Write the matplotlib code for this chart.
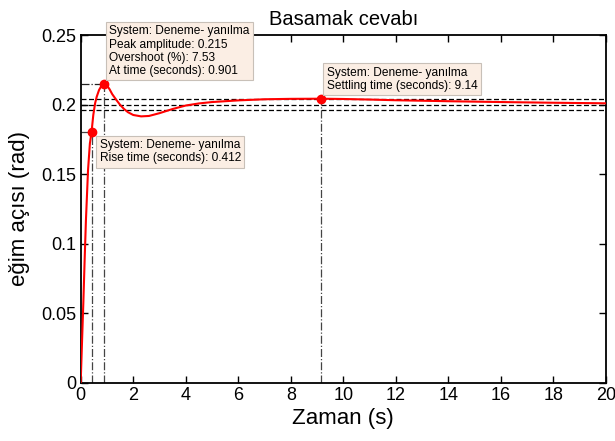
import numpy as np
import matplotlib.pyplot as plt

plt.rcParams['font.family'] = ['Liberation Sans', 'DejaVu Sans']

# step response read point by point
zaman = [0, 0.05, 0.1, 0.15, 0.2, 0.28, 0.35, 0.412, 0.48, 0.55, 0.61, 0.7, 0.8,
         0.901, 1.0, 1.1, 1.2, 1.35, 1.5, 1.65, 1.8, 2.0, 2.3, 2.6, 3.0, 3.5,
         4.0, 4.5, 5.0, 6.0, 7.0, 8.0, 9.14, 10.0, 11.0, 12.0, 14.0, 16.0,
         18.0, 20.0]
aci = [0, 0.029, 0.057, 0.088, 0.117, 0.153, 0.172, 0.180, 0.1925, 0.201, 0.2056,
       0.2105, 0.2138, 0.215, 0.2138, 0.211, 0.2075, 0.2035, 0.1998, 0.1968,
       0.1945, 0.1925, 0.1915, 0.1918, 0.1938, 0.1968, 0.1993, 0.2008, 0.2018,
       0.2030, 0.2038, 0.2041, 0.2042, 0.2040, 0.2036, 0.2031, 0.2024, 0.2018,
       0.2013, 0.2009]

son_deger = 0.2
bant = [0.196, 0.2, 0.204]

rise_t, rise_y = 0.412, 0.180
peak_t, peak_y = 0.901, 0.215
settle_t, settle_y = 9.14, 0.2042

fig = plt.figure(figsize=(6.15, 4.41), dpi=100)
ax = fig.add_axes([0.1312, 0.1322, 0.8542, 0.7884])

# settling band
for y in bant:
    ax.axhline(y, color='black', ls=(0, (4, 2)), lw=0.9, zorder=1)

# characteristic markers guides
ax.plot([rise_t, rise_t], [0, rise_y], color='#444444', ls='-.', lw=0.9)
ax.plot([0, rise_t], [rise_y, rise_y], color='#444444', ls='-.', lw=0.9)
ax.plot([peak_t, peak_t], [0, peak_y], color='#444444', ls='-.', lw=0.9)
ax.plot([0, peak_t], [peak_y, peak_y], color='#222222', ls='-.', lw=0.9)
ax.plot([settle_t, settle_t], [0, settle_y], color='#444444', ls='-.', lw=0.9)

ax.plot(zaman, aci, color='red', lw=1.5, zorder=3)
ax.plot([rise_t, peak_t, settle_t], [rise_y, peak_y, settle_y], 'o',
        color='red', ms=6, zorder=4)

kutu = dict(boxstyle='square,pad=0.3', fc='#fbeee4', ec='#c8c0b8', lw=0.8)
ax.annotate('System: Deneme- yanılma\nPeak amplitude: 0.215\n'
            'Overshoot (%): 7.53\nAt time (seconds): 0.901',
            xy=(peak_t, peak_y), xytext=(5, 7), textcoords='offset pixels',
            ha='left', va='bottom', fontsize=8.6, bbox=kutu, zorder=5,
            linespacing=1.12)
ax.annotate('System: Deneme- yanılma\nSettling time (seconds): 9.14',
            xy=(settle_t, settle_y), xytext=(6, 7), textcoords='offset pixels',
            ha='left', va='bottom', fontsize=8.6, bbox=kutu, zorder=5,
            linespacing=1.12)
ax.annotate('System: Deneme- yanılma\nRise time (seconds): 0.412',
            xy=(rise_t, rise_y), xytext=(8, -7), textcoords='offset pixels',
            ha='left', va='top', fontsize=8.6, bbox=kutu, zorder=5,
            linespacing=1.12)

ax.set_xlim(0, 20)
ax.set_ylim(0, 0.25)
ax.set_xticks(np.arange(0, 21, 2))
ax.set_yticks([0, 0.05, 0.1, 0.15, 0.2, 0.25])
ax.set_yticklabels(['0', '0.05', '0.1', '0.15', '0.2', '0.25'])
ax.tick_params(direction='in', top=True, right=True, length=5, width=1,
               labelsize=13, pad=3)
for s in ax.spines.values():
    s.set_linewidth(1.3)

ax.set_title('Basamak cevabı', fontsize=14.5, pad=7)
ax.set_xlabel('Zaman (s)', fontsize=16, labelpad=3)
ax.set_ylabel('eğim açısı (rad)', fontsize=16, labelpad=8)

plt.savefig('out.png', dpi=100)
